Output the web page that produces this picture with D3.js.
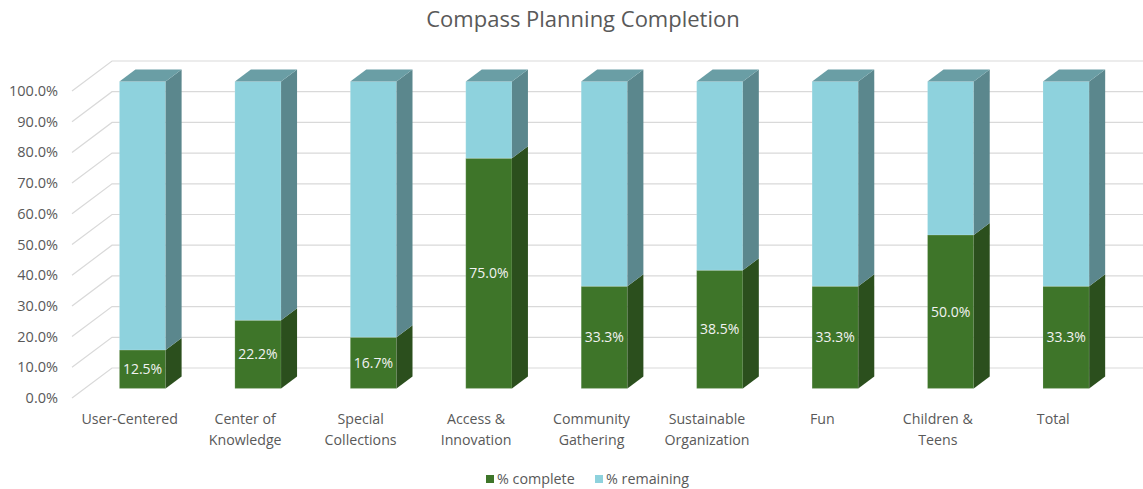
<!DOCTYPE html>
<html>
<head>
<meta charset="utf-8">
<script src="https://cdn.jsdelivr.net/npm/d3@7"></script>
<style>
  html, body { margin: 0; padding: 0; background: #ffffff; }
  svg { display: block; font-family: "Open Sans", "Noto Sans", sans-serif; }
</style>
</head>
<body>
<svg id="chart" width="1143" height="489"></svg>
<script>
// Planning areas and completion share per area
const categories = ["User-Centered", "Center of Knowledge", "Special Collections", "Access & Innovation",
  "Community Gathering", "Sustainable Organization", "Fun", "Children & Teens", "Total"];
const complete = [0.125, 0.222, 0.167, 0.75, 0.333, 0.385, 0.333, 0.50, 0.333];
const remaining = complete.map(v => 1 - v);
const yTicks = [0, 0.1, 0.2, 0.3, 0.4, 0.5, 0.6, 0.7, 0.8, 0.9, 1.0];
const seriesNames = ["% complete", "% remaining"];

const svg = d3.select("#chart");
const textColor = "#595959";
const gridColor = "#d9d9d9";

// Palette: front, side, top faces for each series
const colors = {
  complete: { front: "#3e7529", side: "#2b4f1d", top: "#356422" },
  remaining: { front: "#8ed2dd", side: "#5b878d", top: "#6a9ea5" }
};

// Oblique projection: depth z in [0,1] shifts right and up
const depthX = 40, depthY = -30;
const y = d3.scaleLinear().domain([0, 1]).range([398, 91]);
const x = d3.scaleBand().domain(categories).range([72, 1111]).paddingInner(0.6).paddingOuter(0.3);
const proj = (px, v, z) => [px + z * depthX, y(v) + z * depthY];

// Title
svg.append("text")
  .attr("x", 583).attr("y", 27)
  .attr("text-anchor", "middle")
  .attr("fill", textColor)
  .attr("font-size", 22)
  .text("Compass Planning Completion");

// Back wall gridlines plus side-wall diagonals
const grid = svg.append("g").attr("stroke", gridColor).attr("stroke-width", 1.2).attr("fill", "none");
yTicks.forEach(t => {
  const a = proj(72, t, 0), b = proj(72, t, 1), c = proj(1111, t, 1);
  grid.append("path").attr("d", d3.line()([a, b, c]));
});

// Y-axis tick labels on the front plane
svg.append("g").selectAll("text").data(yTicks).join("text")
  .attr("x", 58).attr("y", d => y(d)).attr("dy", "0.35em")
  .attr("text-anchor", "end").attr("fill", textColor).attr("font-size", 14.5)
  .text(d3.format(".1%"));

// 3D stacked bars
const z0 = 0.32, z1 = 0.72;
const bars = svg.append("g");
function prism(g, x0, w, v0, v1, pal, showTop) {
  const f = (px, v, z) => proj(px, v, z);
  const line = d3.line();
  // front face
  g.append("path").attr("fill", pal.front)
    .attr("stroke", "#ffffff").attr("stroke-opacity", 0.25).attr("stroke-width", 0.6)
    .attr("d", line([f(x0, v0, z0), f(x0 + w, v0, z0), f(x0 + w, v1, z0), f(x0, v1, z0)]) + "Z");
  // side face
  g.append("path").attr("fill", pal.side)
    .attr("d", line([f(x0 + w, v0, z0), f(x0 + w, v0, z1), f(x0 + w, v1, z1), f(x0 + w, v1, z0)]) + "Z");
  if (showTop) {
    g.append("path").attr("fill", pal.top)
      .attr("d", line([f(x0, v1, z0), f(x0 + w, v1, z0), f(x0 + w, v1, z1), f(x0, v1, z1)]) + "Z");
  }
}
categories.forEach((c, i) => {
  const g = bars.append("g");
  const x0 = x(c), w = x.bandwidth();
  prism(g, x0, w, 0, complete[i], colors.complete, false);
  prism(g, x0, w, complete[i], complete[i] + remaining[i], colors.remaining, true);
  // value label centred on the completed segment
  const p = proj(x0 + w / 2, complete[i] / 2, z0);
  g.append("text")
    .attr("x", p[0]).attr("y", p[1]).attr("dy", "0.35em")
    .attr("text-anchor", "middle").attr("fill", "#f2f2f2").attr("font-size", 14)
    .text(d3.format(".1%")(complete[i]));
});

// Category labels along the front plane, wrapped to fit the band
const maxW = 104;
const catG = svg.append("g");
categories.forEach(c => {
  const t = catG.append("text")
    .attr("text-anchor", "middle").attr("fill", textColor).attr("font-size", 14.2);
  const cx = x(c) + x.bandwidth() / 2;
  const words = c.split(" ");
  const lines = [];
  let cur = [];
  words.forEach(wd => {
    const test = cur.concat(wd).join(" ");
    const probe = t.text(test);
    if (cur.length && probe.node().getComputedTextLength() > maxW) {
      lines.push(cur.join(" "));
      cur = [wd];
    } else {
      cur.push(wd);
    }
  });
  lines.push(cur.join(" "));
  t.text(null);
  lines.forEach((ln, k) => {
    t.append("tspan").attr("x", cx).attr("y", 424 + k * 21).text(ln);
  });
});

// Legend
const legend = svg.append("g").attr("transform", "translate(486,479)");
const legItems = [
  { name: seriesNames[0], color: colors.complete.front, x: 0 },
  { name: seriesNames[1], color: colors.remaining.front, x: 109 }
];
legItems.forEach(d => {
  legend.append("rect").attr("x", d.x).attr("y", -4).attr("width", 8).attr("height", 8).attr("fill", d.color);
  legend.append("text").attr("x", d.x + 11).attr("y", 0).attr("dy", "0.35em")
    .attr("fill", textColor).attr("font-size", 14.3).text(d.name);
});
</script>
</body>
</html>
